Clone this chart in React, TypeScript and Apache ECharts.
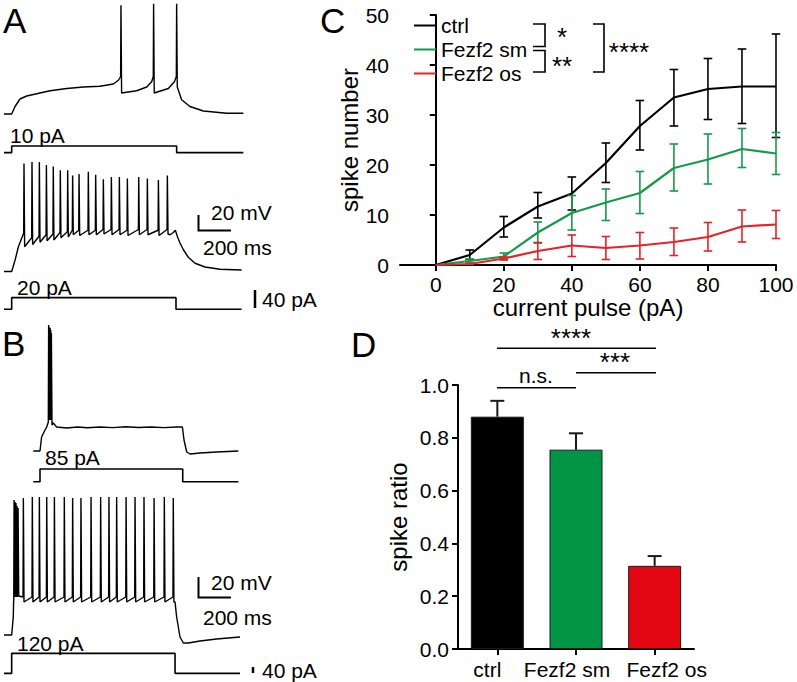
import React, { useEffect, useRef } from 'react';
import * as echarts from 'echarts';

const FONT = '"Liberation Sans", Arial, Helvetica, sans-serif';

type Pt = [number, number];

// ---------- Panel C: spike number vs current pulse ----------
const pulseCurrents = [0, 10, 20, 30, 40, 50, 60, 70, 80, 90, 100];
const ctrlMean = [0, 2, 7.5, 11.7, 14.3, 20.4, 27.8, 33.5, 35.2, 35.7, 35.7];
const ctrlLow = [0, 1.1, 5.6, 9.4, 11, 16.5, 23, 27.8, 29.1, 28.3, 25.5];
const ctrlHigh = [0, 3, 9.7, 14.5, 17.6, 24.4, 32.9, 39.1, 41.3, 43.2, 46.2];
const smMean = [0, 0.8, 1.7, 6.5, 10.4, 12.5, 14.4, 19.4, 21.1, 23.2, 22.3];
const smLow = [0, 0.4, 1.1, 4.4, 7, 8.9, 10.3, 14.8, 16.2, 19.5, 18.1];
const smHigh = [0, 1.2, 2.4, 8.6, 13.9, 15.2, 18.7, 24.2, 26.2, 27.3, 26.5];
const osMean = [0, 0.2, 1.3, 2.8, 3.9, 3.4, 3.9, 4.6, 5.6, 7.7, 8.1];
const osLow = [0, 0.1, 1.0, 1.1, 1.7, 1.1, 1.2, 1.9, 2.8, 4.6, 5.3];
const osHigh = [0, 0.3, 1.6, 4.5, 6.0, 5.7, 6.5, 7.4, 8.5, 11, 10.9];
const pulseTicks = [0, 20, 40, 60, 80, 100];
const groupNames = ['ctrl', 'Fezf2 sm', 'Fezf2 os'];

// ---------- Panel D: spike ratio ----------
const ratioGroups = ['ctrl', 'Fezf2 sm', 'Fezf2 os'];
const ratioMean = [0.88, 0.755, 0.315];
const ratioErr = [0.06, 0.062, 0.037];

// ---------- Panel A traces (ms, mV / pA) ----------
const a1Pre: Pt[] = [[0, -72], [48, -72], [69, -62], [100, -52], [142, -48], [204, -45], [288, -41], [392, -38], [496, -36], [600, -35], [683, -32], [715, -27]];
const a1SpikeT = [731, 935, 1079];
const a1Thr = [-22, -22, -22];
const a1Peak = [73, 75, 75];
const a1Trough = [-44, -44, -36];
const a1Gaps: Pt[][] = [[[829, -41], [892, -36], [923, -29]], [[1027, -38], [1065, -29]], []];
const a1Post: Pt[] = [[1110, -53], [1162, -62], [1246, -68], [1392, -71], [1496, -71]];
const a1Step: Pt[] = [[0, 0], [48, 0], [48, 10], [1079, 10], [1079, 0], [1496, 0]];

const a2Pre: Pt[] = [[0, -77], [48, -77], [69, -62], [90, -44], [110, -33], [119, -28]];
const a2SpikeT = [125, 175, 221, 265, 308, 352, 398, 429, 469, 527, 573, 621, 671, 721, 771, 842, 896, 965, 1021];
const a2Peak = [67, 69, 69, 65, 63, 58, 58, 51, 53, 56, 52, 46, 49, 49, 47, 49, 47, 45, 51];
const a2Trough = [-44, -41, -38, -36, -35, -32, -31, -28, -29, -28, -28, -27, -28, -28, -29, -28, -28, -29, -27];
const a2Thr = [-26, -32, -30, -28, -27, -25, -24, -22, -22, -22, -22, -21, -21, -21, -22, -21, -21, -22, -21];
const a2Post: Pt[] = [[1038, -28], [1058, -25], [1071, -22], [1083, -30], [1100, -39], [1121, -48], [1152, -58], [1194, -66], [1256, -71], [1350, -74], [1485, -75]];
const a2Step: Pt[] = [[0, 0], [48, 0], [48, 20], [1075, 20], [1075, 0], [1485, 0]];

// ---------- Panel B traces ----------
const b1Pre: Pt[] = [[183, -71], [225, -71], [235, -57], [250, -52], [267, -47]];
const b1SpikeT = [279, 283, 288, 292, 296];
const b1Thr = [-42, -40, -40, -40, -40];
const b1Peak = [55, 53, 52, 50, 47];
const b1Trough = [-40, -40, -40, -40, -45];
const b1Post: Pt[] = [[308, -43], [329, -47], [392, -48], [460, -47], [520, -47.8], [600, -47], [680, -47.6], [760, -46.8], [840, -47.5], [920, -47], [1000, -47.6], [1080, -47], [1115, -47], [1125, -60], [1142, -72], [1163, -74], [1225, -73], [1329, -72], [1465, -71]];
const b1Step: Pt[] = [[183, 0], [225, 0], [225, 85], [1117, 85], [1117, 0], [1465, 0]];

const b2Pre: Pt[] = [[0, -85], [48, -85], [58, -67], [60, -52]];
const b2SpikeT = [63, 69, 75, 81, 88, 121, 177, 221, 267, 315, 377, 429, 481, 544, 604, 656, 704, 763, 819, 875, 938, 1002, 1058];
const b2Peak = [50, 48, 47, 44, 42, 52, 53, 53, 53, 53, 53, 52, 52, 53, 53, 53, 53, 53, 53, 53, 52, 53, 52];
const b2Thr = [-50, -47, -47, -47, -47, -47, -47, -47, -47, -47, -47, -47, -47, -47, -47, -47, -47, -47, -47, -47, -47, -47, -47];
const b2Trough = [-47, -47, -47, -47, -46, -52, -52, -52, -52, -52, -52, -52, -52, -52, -52, -52, -52, -52, -52, -52, -52, -52, -52];
const b2Post: Pt[] = [[1069, -52], [1079, -67], [1100, -87], [1121, -93], [1152, -93], [1225, -91], [1329, -89], [1475, -87]];
const b2Step: Pt[] = [[0, 0], [48, 0], [48, 120], [1069, 120], [1069, 0], [1475, 0]];

function buildTrace(pre: Pt[], times: number[], thr: number[], peak: number[], trough: number[], post: Pt[], gaps?: Pt[][]): Pt[] {
  const out: Pt[] = [...pre];
  times.forEach((t, i) => {
    out.push([t - 2, thr[i]], [t, peak[i]], [t + 4, trough[i]]);
    if (gaps && gaps[i]) out.push(...gaps[i]);
  });
  return out.concat(post);
}

const errRender = (color: string, cap: number, onlyTop: boolean, lw: number) => (params: any, api: any) => {
  const x = api.value(0);
  const lo = api.value(1);
  const hi = api.value(2);
  const a = api.coord([x, hi]);
  const b = api.coord([x, lo]);
  const style = { stroke: color, lineWidth: lw, fill: 'none' };
  const children: any[] = [
    { type: 'line', shape: { x1: a[0], y1: a[1], x2: b[0], y2: b[1] }, style },
    { type: 'line', shape: { x1: a[0] - cap, y1: a[1], x2: a[0] + cap, y2: a[1] }, style },
  ];
  if (!onlyTop) children.push({ type: 'line', shape: { x1: b[0] - cap, y1: b[1], x2: b[0] + cap, y2: b[1] }, style });
  return { type: 'group', children };
};

const txt = (text: string, x: number, y: number, size: number, align: string = 'left') => ({
  type: 'text', x, y, silent: true,
  style: { text, fontSize: size, fontFamily: FONT, fill: '#000', align, verticalAlign: 'middle' },
});
const pl = (points: number[][], w = 1.6) => ({
  type: 'polyline', silent: true, shape: { points }, style: { stroke: '#000', lineWidth: w, fill: 'none' },
});

export default function App() {
  const ref = useRef<HTMLDivElement>(null);
  useEffect(() => {
    if (!ref.current) return;
    const chart = echarts.init(ref.current, undefined, { renderer: 'svg' });

    const traceGrids = [
      { top: 0, height: 120, min: -80, max: 80 },
      { top: 140, height: 20, min: -11, max: 19 },
      { top: 150, height: 129, min: -87, max: 85 },
      { top: 290, height: 25, min: -9.8, max: 33.2 },
      { top: 320, height: 140, min: -80, max: 60 },
      { top: 460, height: 30, min: -55.6, max: 145.4 },
      { top: 490, height: 160, min: -100, max: 60 },
      { top: 645, height: 35, min: -40, max: 170 },
    ];
    const traces: Pt[][] = [
      buildTrace(a1Pre, a1SpikeT, a1Thr, a1Peak, a1Trough, a1Post, a1Gaps),
      a1Step,
      buildTrace(a2Pre, a2SpikeT, a2Thr, a2Peak, a2Trough, a2Post),
      a2Step,
      buildTrace(b1Pre, b1SpikeT, b1Thr, b1Peak, b1Trough, b1Post),
      b1Step,
      buildTrace(b2Pre, b2SpikeT, b2Thr, b2Peak, b2Trough, b2Post),
      b2Step,
    ];

    const axisTxt = { fontSize: 21, fontFamily: FONT, color: '#000' };
    const nameTxt = { fontSize: 24, fontFamily: FONT, color: '#000' };
    const axLine = { show: true, lineStyle: { color: '#000', width: 2 } };
    const axTick = { show: true, inside: false, length: 6, lineStyle: { color: '#000', width: 2 } };

    const grid: any[] = [
      { left: 400, top: 15, width: 376, height: 250 },
      { left: 458, top: 385, width: 236, height: 264 },
      ...traceGrids.map((g) => ({ left: 4, top: g.top, width: 240, height: g.height })),
    ].map((g) => ({ ...g, containLabel: false, outerBoundsMode: 'none', show: false }));

    const xAxis: any[] = [
      {
        gridIndex: 0, type: 'value', min: -10.5, max: 100,
        axisLine: axLine,
        axisTick: { ...axTick, customValues: pulseTicks },
        axisLabel: { ...axisTxt, margin: 9, customValues: pulseTicks },
        splitLine: { show: false },
        name: 'current pulse (pA)', nameLocation: 'middle', nameGap: 26, nameTextStyle: nameTxt,
      },
      {
        gridIndex: 1, type: 'category', data: ratioGroups,
        axisLine: axLine,
        axisTick: { ...axTick, alignWithLabel: true },
        axisLabel: {
          ...axisTxt, margin: 10, interval: 0,
          formatter: (v: string, i: number) => `{g${i}|${v}}`,
          rich: {
            g0: { ...axisTxt, padding: [0, 20, 0, 0] },
            g1: { ...axisTxt, padding: [0, 18, 0, 0] },
            g2: { ...axisTxt, padding: [0, 0, 0, 24] },
          },
        },
        splitLine: { show: false },
      },
      ...traceGrids.map((g, i) => ({ gridIndex: i + 2, type: 'value', min: 0, max: 1500, show: false })),
    ];
    const yAxis: any[] = [
      {
        gridIndex: 0, type: 'value', min: 0, max: 50, interval: 10,
        axisLine: axLine, axisTick: axTick,
        axisLabel: { ...axisTxt, margin: 11 },
        splitLine: { show: false },
        name: 'spike number', nameLocation: 'middle', nameGap: 35, nameRotate: 90, nameTextStyle: nameTxt,
      },
      {
        gridIndex: 1, type: 'value', min: 0, max: 1, interval: 0.2,
        axisLine: axLine, axisTick: axTick,
        axisLabel: { ...axisTxt, margin: 9, formatter: (v: number) => v.toFixed(1) },
        splitLine: { show: false },
        name: 'spike ratio', nameLocation: 'middle', nameGap: 48, nameRotate: 90, nameTextStyle: nameTxt,
      },
      ...traceGrids.map((g, i) => ({ gridIndex: i + 2, type: 'value', min: g.min, max: g.max, show: false })),
    ];

    const colors = ['#000000', '#16994a', '#e42229'];
    const means = [ctrlMean, smMean, osMean];
    const lows = [ctrlLow, smLow, osLow];
    const highs = [ctrlHigh, smHigh, osHigh];

    const series: any[] = [];
    groupNames.forEach((name, k) => {
      series.push({
        name, type: 'line', xAxisIndex: 0, yAxisIndex: 0,
        data: pulseCurrents.map((x, i) => [x, means[k][i]]),
        symbol: 'none', showSymbol: false, color: colors[k],
        lineStyle: { color: colors[k], width: 2.2 }, z: 3 + k,
      });
    });
    groupNames.forEach((name, k) => {
      series.push({
        name: name + ' err', type: 'custom', xAxisIndex: 0, yAxisIndex: 0,
        data: pulseCurrents.slice(1).map((x, i) => [x, lows[k][i + 1], highs[k][i + 1]]),
        encode: { x: 0, y: [1, 2] },
        renderItem: errRender(colors[k], 4.3, false, 1.6), z: 3 + k,
      });
    });
    const barColors = ['#000000', '#009444', '#e30613'];
    series.push({
      name: 'ratio', type: 'bar', xAxisIndex: 1, yAxisIndex: 1, barWidth: 53,
      data: ratioMean.map((v, i) => ({ value: v, itemStyle: { color: barColors[i], borderColor: '#1a1a1a', borderWidth: 1 } })),
    });
    series.push({
      name: 'ratio err', type: 'custom', xAxisIndex: 1, yAxisIndex: 1,
      data: ratioMean.map((v, i) => [i, v, v + ratioErr[i]]),
      encode: { x: 0, y: [1, 2] },
      renderItem: errRender('#1a1a1a', 7, true, 2), z: 5,
    });
    traces.forEach((d, i) => {
      series.push({
        name: 'trace' + i, type: 'line', xAxisIndex: i + 2, yAxisIndex: i + 2,
        data: d, symbol: 'none', showSymbol: false, clip: false, silent: true,
        lineStyle: { color: '#000', width: i % 2 === 0 ? 1.4 : 1.6 },
      });
    });

    const graphic: any[] = [
      txt('A', 3, 20, 35), txt('B', 2, 343, 35), txt('C', 320, 20, 35), txt('D', 351, 344, 35),
      txt('10 pA', 10, 135, 21), txt('20 pA', 17, 287.5, 21), txt('85 pA', 45, 457.5, 21), txt('120 pA', 17, 643.5, 21),
      pl([[198.5, 215], [198.5, 230.5], [231, 230.5]], 2), txt('20 mV', 211, 212.5, 21), txt('200 ms', 203, 247.5, 21),
      pl([[255, 290], [255, 308]], 2.5), txt('40 pA', 262, 299, 21),
      pl([[198.5, 577], [198.5, 597.5], [231, 597.5]], 2), txt('20 mV', 211, 582, 21), txt('200 ms', 203, 617, 21),
      pl([[253, 667], [253, 673]], 2.5), txt('40 pA', 262, 670, 21),
      // panel C significance brackets
      pl([[533, 24], [545, 24], [545, 46.5], [533, 46.5]]),
      pl([[533, 50.5], [545, 50.5], [545, 72], [533, 72]]),
      pl([[593, 24], [604, 24], [604, 72], [593, 72]]),
      txt('*', 562, 36.5, 26, 'center'), txt('**', 562, 66, 26, 'center'), txt('****', 629, 52, 26, 'center'),
      // panel D significance lines
      pl([[497, 348.3], [656, 348.3]]), pl([[576, 372.7], [656, 372.7]]), pl([[497, 387.7], [576, 387.7]]),
      txt('****', 571, 338, 26, 'center'), txt('***', 615, 362, 26, 'center'), txt('n.s.', 536, 375, 21, 'center'),
    ];

    chart.setOption({
      animation: false,
      backgroundColor: '#ffffff',
      textStyle: { fontFamily: FONT },
      grid, xAxis, yAxis, series, graphic,
      legend: {
        orient: 'vertical', left: 409, top: 10, itemWidth: 22, itemHeight: 2, itemGap: 3,
        icon: 'rect', data: groupNames, selectedMode: false,
        textStyle: { fontSize: 21, fontFamily: FONT, color: '#000' },
      },
    });
    return () => chart.dispose();
  }, []);
  return <div ref={ref} style={{ position: 'absolute', left: 0, top: 0, width: 797, height: 682, background: '#fff' }} />;
}
